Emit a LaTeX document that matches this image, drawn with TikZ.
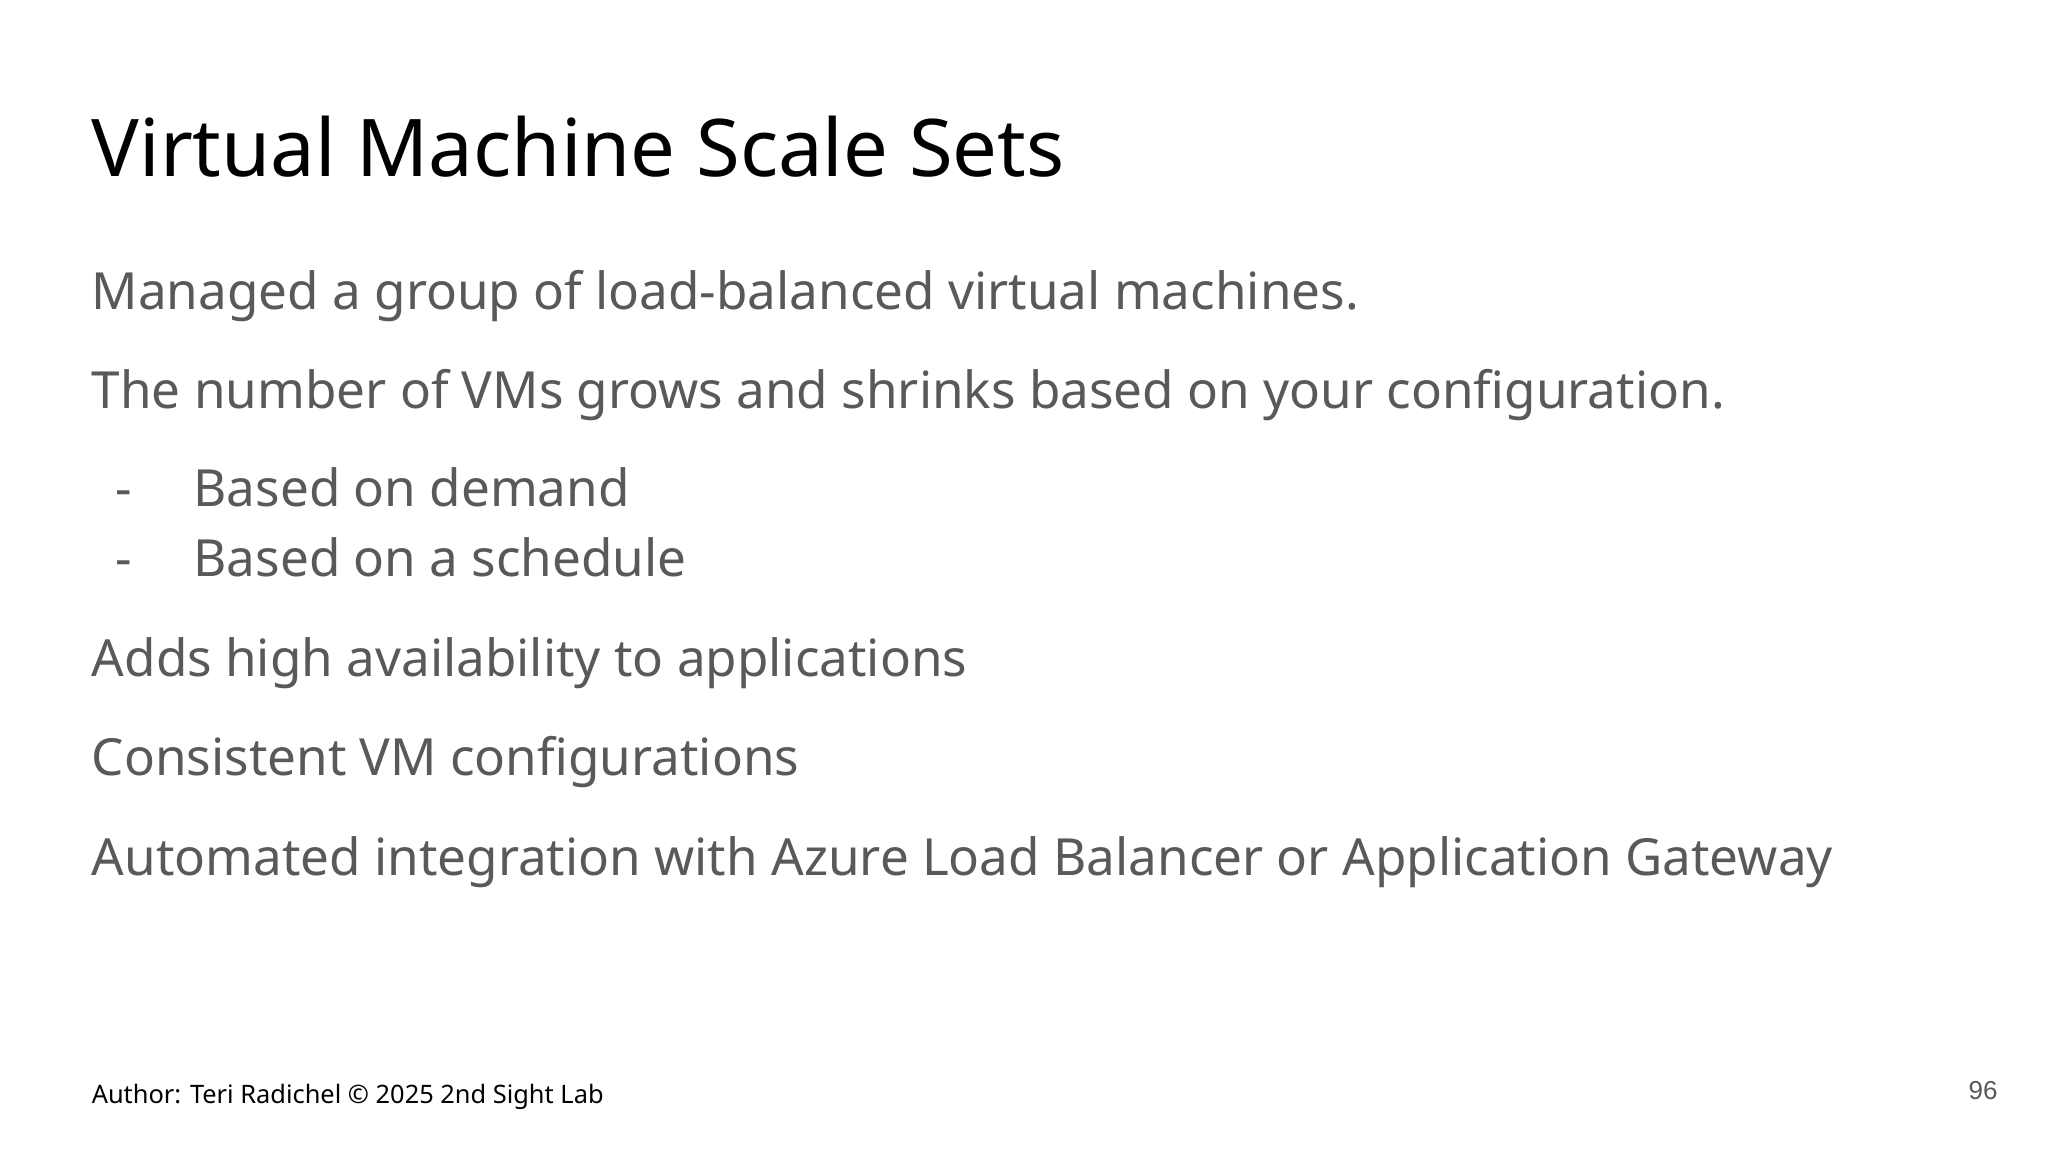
\documentclass[tikz,border=0pt]{standalone}
\usepackage{fontspec}
\setmainfont{Noto Sans}
\newfontfamily\arialf{Liberation Sans}
\definecolor{bodyg}{HTML}{595959}
\begin{document}
\begin{tikzpicture}[x=1pt,y=1pt,
  body/.style={anchor=base west,inner sep=0pt,text=bodyg,font=\fontsize{25.6}{31}\selectfont}]
\useasboundingbox[fill=white] (0,0) rectangle (1024,-576);
\node[anchor=base west,inner sep=0pt,font=\fontsize{39.8}{47}\selectfont] (title) at (45.7,-88.2) {Virtual Machine Scale Sets};
\node[body] (l1) at (45.7,-154.8) {Managed a group of load-balanced virtual machines.};
\node[body] (l2) at (45.7,-204.4) {The number of VMs grows and shrinks based on your configuration.};
\node[body] (d1) at (57.5,-253.4) {-};
\node[body] (b1) at (96.6,-253.4) {Based on demand};
\node[body] (d2) at (57.5,-288) {-};
\node[body] (b2) at (96.6,-288) {Based on a schedule};
\node[body] (l3) at (45.7,-338.3) {Adds high availability to applications};
\node[body] (l4) at (45.7,-387.9) {Consistent VM configurations};
\node[body] (l5) at (45.7,-437.5) {Automated integration with Azure Load Balancer or Application Gateway};
\node[anchor=base west,inner sep=0pt,font=\fontsize{12.7}{15}\selectfont] (foot) at (45.7,-551.8) {Author: Teri Radichel © 2025 2nd Sight Lab};
\node[anchor=base east,inner sep=0pt,text=bodyg,font=\arialf\fontsize{13}{15}\selectfont] (pg) at (999,-549.8) {96};
\end{tikzpicture}
\end{document}
